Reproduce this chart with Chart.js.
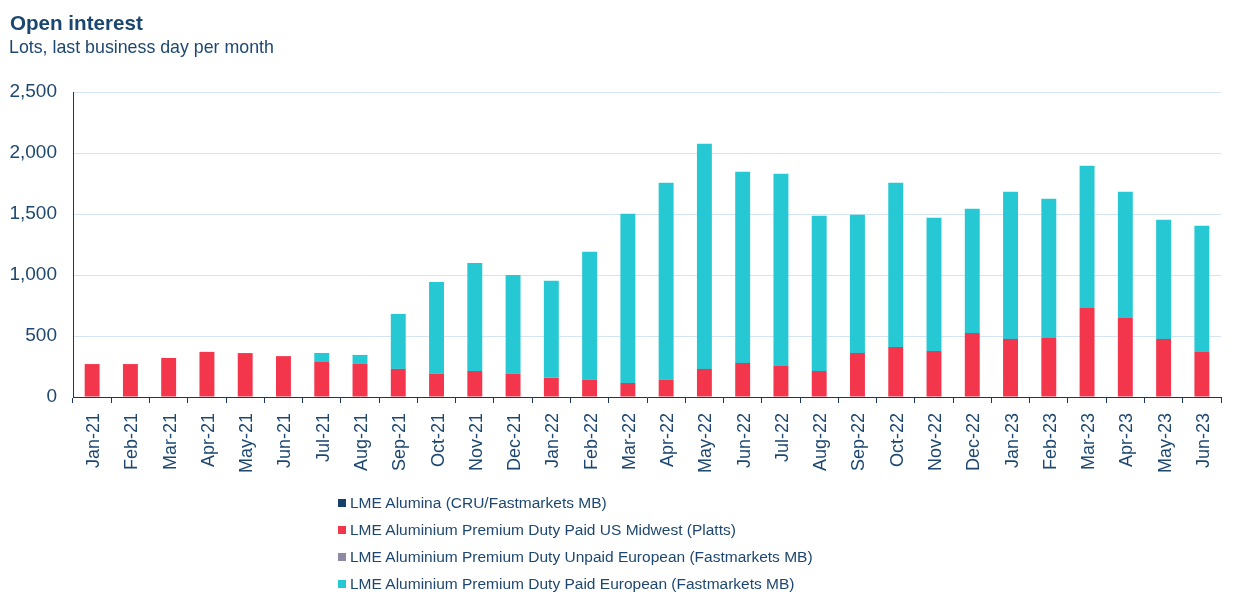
<!DOCTYPE html>
<html>
<head>
<meta charset="utf-8">
<script src="https://cdn.jsdelivr.net/npm/chart.js@4/dist/chart.umd.min.js"></script>
<style>
  html, body { margin: 0; padding: 0; background: #fff; }
  body { width: 1239px; height: 596px; position: relative; overflow: hidden; font-family: "Liberation Sans", Arial, sans-serif; color: #1d4770; }
  #wrap { position: absolute; left: 0; top: 0; width: 1239px; height: 596px; }
  #title { position: absolute; left: 10px; top: 11px; font-size: 20.6px; font-weight: bold; color: #1b4670; line-height: 24px; white-space: nowrap; }
  #subtitle { position: absolute; left: 9px; top: 36px; font-size: 17.8px; color: #1d4770; line-height: 22px; white-space: nowrap; }
  #legend { position: absolute; left: 338px; top: 489px; font-size: 15.5px; color: #1d4770; }
  #legend .item { height: 27px; display: flex; align-items: center; white-space: nowrap; }
  #legend .box { width: 8px; height: 8px; margin-right: 4px; flex: none; }
</style>
</head>
<body>
<div id="wrap"><canvas id="c" width="1239" height="596"></canvas></div>
<div id="title">Open interest</div>
<div id="subtitle">Lots, last business day per month</div>
<div id="legend"></div>
<script>
const categories = ["Jan-21","Feb-21","Mar-21","Apr-21","May-21","Jun-21","Jul-21","Aug-21","Sep-21","Oct-21","Nov-21","Dec-21",
  "Jan-22","Feb-22","Mar-22","Apr-22","May-22","Jun-22","Jul-22","Aug-22","Sep-22","Oct-22","Nov-22","Dec-22",
  "Jan-23","Feb-23","Mar-23","Apr-23","May-23","Jun-23"];
const aluminaCRU = [0,0,0,0,0,0,0,0,0,0,0,0,0,0,0,0,0,0,0,0,0,0,0,0,0,0,0,0,0,0];
const usMidwestPlatts = [270,270,320,370,360,335,287,271,230,191,213,191,159,142,115,142,230,279,254,213,361,410,377,525,476,484,730,648,476,369];
const dutyUnpaidEuropean = [0,0,0,0,0,0,0,0,0,0,0,0,0,0,0,0,0,0,0,0,0,0,0,0,0,0,0,0,0,0];
const dutyPaidEuropean = [0,0,0,0,0,0,74,74,451,752,886,810,793,1048,1387,1614,1846,1567,1576,1272,1132,1346,1092,1018,1206,1141,1165,1034,976,1034];
const yTicks = [0,500,1000,1500,2000,2500];

const seriesNames = [
  "LME Alumina (CRU/Fastmarkets MB)",
  "LME Aluminium Premium Duty Paid US Midwest (Platts)",
  "LME Aluminium Premium Duty Unpaid European (Fastmarkets MB)",
  "LME Aluminium Premium Duty Paid European (Fastmarkets MB)"
];
const seriesColors = ["#17406d", "#f4364c", "#8e8aa3", "#26c9d3"];
const seriesData = [aluminaCRU, usMidwestPlatts, dutyUnpaidEuropean, dutyPaidEuropean];

const textColor = "#1d4770";
const axisColor = "#17375e";

const datasets = seriesNames.map((n, i) => ({
  label: n,
  data: seriesData[i],
  backgroundColor: seriesColors[i],
  borderWidth: 0,
  categoryPercentage: 1.0,
  barPercentage: 0.39
}));

const chart = new Chart(document.getElementById('c'), {
  type: 'bar',
  data: { labels: categories, datasets },
  options: {
    responsive: false,
    animation: false,
    layout: { padding: { top: 92, right: 18, left: 0, bottom: 0 } },
    plugins: { legend: { display: false }, tooltip: { enabled: false } },
    scales: {
      x: {
        stacked: true,
        grid: { display: true, drawOnChartArea: false, drawTicks: true, tickLength: 6, color: axisColor, offset: true },
        border: { display: true, color: axisColor, width: 1 },
        ticks: { color: textColor, font: { family: "Liberation Sans", size: 18 }, minRotation: 90, maxRotation: 90, padding: 10, labelOffset: 2, autoSkip: false },
        afterFit: (s) => { s.height = 199; }
      },
      y: {
        stacked: true,
        min: 0, max: 2500,
        afterBuildTicks: (s) => { s.ticks = yTicks.map(v => ({ value: v })); },
        grid: { color: (ctx) => ctx.tick && ctx.tick.value === 0 ? 'rgba(0,0,0,0)' : '#d3e5f5', lineWidth: 1, drawTicks: false },
        border: { display: true, color: axisColor, width: 1 },
        ticks: { color: textColor, font: { family: "Liberation Sans", size: 19 }, padding: 16 },
        afterFit: (s) => { s.width = 73; }
      }
    }
  }
});

const legend = document.getElementById('legend');
seriesNames.forEach((n, i) => {
  const it = document.createElement('div');
  it.className = 'item';
  const b = document.createElement('span');
  b.className = 'box';
  b.style.background = seriesColors[i];
  const t = document.createElement('span');
  t.textContent = n;
  it.appendChild(b); it.appendChild(t);
  legend.appendChild(it);
});
</script>
</body>
</html>
